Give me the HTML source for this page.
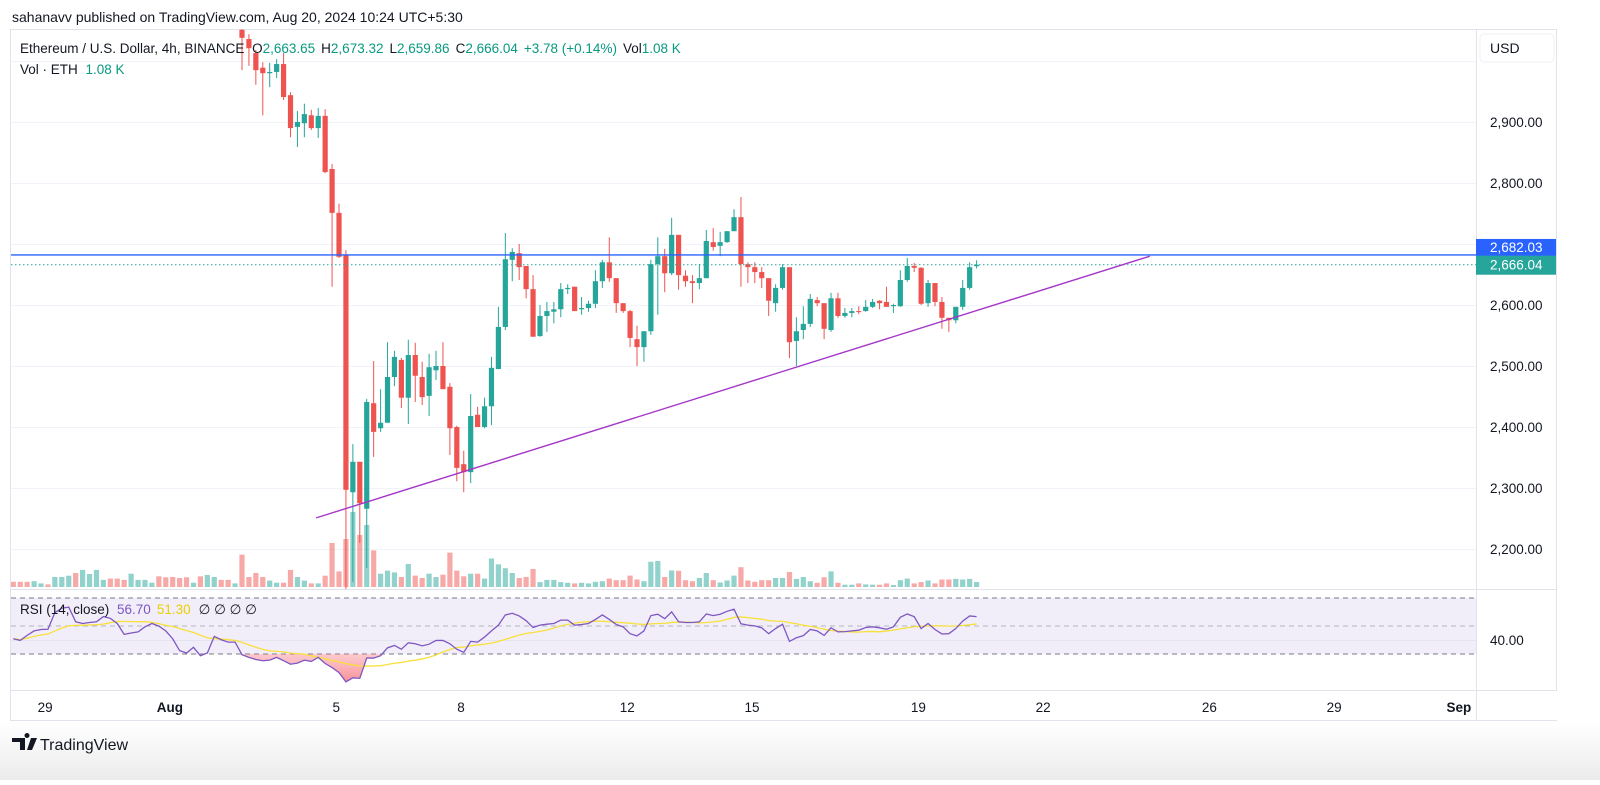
<!DOCTYPE html>
<html><head><meta charset="utf-8"><style>
html,body{margin:0;padding:0;background:#fff;}
body{width:1600px;height:780px;overflow:hidden;font-family:"Liberation Sans",sans-serif;}
svg text{font-family:"Liberation Sans",sans-serif;}
</style></head><body>
<svg id="chart" width="1600" height="780" viewBox="0 0 1600 780" xmlns="http://www.w3.org/2000/svg">
<defs>
<linearGradient id="foot" x1="0" y1="0" x2="0" y2="1"><stop offset="0" stop-color="#ffffff"/><stop offset="1" stop-color="#ebebeb"/></linearGradient>
<linearGradient id="osf" x1="0" y1="0" x2="0" y2="1"><stop offset="0" stop-color="#ffffff" stop-opacity="0.2"/><stop offset="1" stop-color="#f23645" stop-opacity="0.55"/></linearGradient>
<clipPath id="priceClip"><rect x="11" y="29" width="1465" height="560"/></clipPath>
<clipPath id="rsiClip"><rect x="11" y="591" width="1465" height="99"/></clipPath>
<clipPath id="below30"><rect x="11" y="654" width="1465" height="40"/></clipPath>
</defs>
<rect x="0" y="722" width="1600" height="58" fill="url(#foot)"/>
<g id="frame" fill="none" stroke="#e0e3eb" stroke-width="1">
<rect x="10.5" y="29.5" width="1546" height="691"/>
<line x1="1476.5" y1="29" x2="1476.5" y2="721"/>
<line x1="10" y1="589.5" x2="1557" y2="589.5"/>
<line x1="10" y1="690.5" x2="1557" y2="690.5"/>
</g>
<g id="grid"></g>
<g id="axisLabels"></g>
<g id="volG" clip-path="url(#priceClip)"></g>
<g id="candleG" clip-path="url(#priceClip)"></g>
<g id="linesG"></g>
<g id="rsiG"></g>
<g id="timeG"></g>
<rect x="1480" y="34" width="74" height="28" rx="4" fill="#fff" stroke="#eef0f3"/>
<text x="1490" y="53" font-size="14" fill="#131722">USD</text>
<text x="12" y="22" font-size="14" fill="#131722">sahanavv published on TradingView.com, Aug 20, 2024 10:24 UTC+5:30</text>
<text x="20" y="53" font-size="13.5" fill="#131722">Ethereum / U.S. Dollar, 4h, BINANCE <tspan dx="4">O</tspan><tspan fill="#089981">2,663.65</tspan><tspan dx="6">H</tspan><tspan fill="#089981">2,673.32</tspan><tspan dx="6">L</tspan><tspan fill="#089981">2,659.86</tspan><tspan dx="6">C</tspan><tspan fill="#089981">2,666.04</tspan><tspan dx="6" fill="#089981">+3.78 (+0.14%)</tspan><tspan dx="6">Vol</tspan><tspan fill="#089981">1.08 K</tspan></text>
<text x="20" y="74" font-size="13.5" fill="#131722">Vol · ETH <tspan dx="4" fill="#089981">1.08 K</tspan></text>
<text x="20" y="614" font-size="13.5" fill="#131722">RSI (14, close) <tspan dx="4" fill="#7e57c2">56.70</tspan><tspan dx="6" fill="#e8d000">51.30</tspan><tspan dx="8">∅ ∅ ∅ ∅</tspan></text>
<g>
<path d="M12 738h13v12h-5v-8h-8z M27 738a2.5 2.5 0 1 1 0.01 0z M31 738h6l-5 12h-5z" fill="#131722"/>
<text x="40" y="750" font-size="16" fill="#131722">TradingView</text>
</g>
</svg>
<script>
const candleOpen=[3051,3036,3013,2989,2980,2982,2995,2944,2892,2898,2911,2890,2910,2823,2751,2682,2293,2343,2266,2439,2398,2407,2482,2510,2448,2518,2482,2451,2493,2500,2466,2400,2339,2326,2420,2400,2434,2495,2564,2674,2685,2664,2626,2549,2582,2589,2593,2626,2630,2593,2595,2602,2639,2670,2644,2603,2590,2544,2531,2557,2667,2680,2652,2715,2648,2639,2636,2644,2703,2697,2703,2721,2744,2667,2662,2654,2644,2603,2628,2662,2541,2559,2569,2608,2603,2559,2611,2582,2587,2590,2590,2597,2607,2605,2598,2598,2641,2664,2661,2603,2636,2605,2579,2575,2597,2628,2663.65];
const candleHigh=[3054,3044,3018,2998,2997,3003,3013,2949,2918,2930,2920,2923,2921,2831,2766,2690,2372,2343,2446,2508,2462,2539,2525,2513,2543,2538,2507,2520,2525,2539,2472,2402,2361,2454,2433,2448,2515,2597,2718,2693,2700,2664,2649,2600,2605,2605,2636,2634,2630,2613,2607,2657,2674,2711,2644,2603,2592,2566,2557,2674,2711,2692,2743,2715,2657,2649,2667,2723,2726,2720,2721,2757,2777,2670,2670,2662,2644,2634,2667,2662,2580,2598,2618,2613,2603,2620,2620,2595,2595,2598,2608,2610,2608,2630,2602,2657,2677,2669,2662,2641,2636,2613,2579,2597,2641,2670,2673.32];
const candleLow=[2985,2992,2961,2911,2957,2972,2936,2875,2859,2875,2887,2874,2816,2630,2677,2116,2146,2210,2169,2351,2392,2407,2467,2431,2405,2441,2436,2418,2477,2462,2354,2311,2293,2308,2400,2398,2403,2495,2559,2639,2641,2611,2548,2548,2556,2570,2580,2618,2590,2584,2589,2595,2628,2638,2587,2587,2531,2500,2507,2551,2584,2621,2649,2625,2630,2603,2626,2644,2689,2680,2702,2721,2630,2636,2636,2628,2582,2589,2625,2513,2500,2544,2564,2598,2544,2556,2579,2579,2580,2585,2589,2595,2593,2597,2587,2597,2638,2654,2600,2597,2598,2561,2556,2570,2592,2625,2659.86];
const candleClose=[3038,3021,2985,2980,2982,2995,2941,2890,2900,2913,2890,2910,2818,2751,2679,2297,2343,2275,2441,2392,2407,2482,2515,2448,2518,2484,2449,2498,2500,2462,2398,2333,2326,2418,2400,2434,2497,2564,2675,2687,2662,2626,2548,2582,2590,2593,2626,2628,2590,2595,2602,2639,2670,2644,2603,2590,2546,2531,2557,2667,2680,2652,2715,2649,2639,2636,2644,2705,2695,2703,2721,2744,2667,2662,2654,2644,2607,2628,2662,2539,2557,2569,2610,2603,2561,2611,2582,2587,2590,2589,2597,2605,2603,2597,2600,2641,2664,2661,2602,2636,2605,2579,2575,2597,2628,2662,2666.04];
const preVolume=[5.2,5.2,5.2,5.8,3.6,2.6,10,10,11.3,14,17.1,13,17.1,7.1,8.4,8.4,7.1,13.3,7.1,7.1,4.3,10.7,9.7,10,9,9.7,4.3,10.7,12,10,7.1,7.1,3.6];
const preVolumeUp=[0,0,0,1,1,0,1,1,1,0,1,1,1,1,0,0,0,1,1,1,1,0,0,0,0,0,1,0,1,1,0,0,1];
const candleVolume=[32.4,10,14,10,6.4,4.3,4.3,17.1,10,6.4,3.6,3.6,11.3,44,15.6,48,75,52,62,36.6,13.3,16.4,14.6,10,23,11.4,9,13.3,10,12.3,34.4,16.4,10.7,13.3,13.3,8.4,28.5,22.7,18.8,14,9,10,18,4.9,7.1,7.1,4.9,4.2,3.6,4.2,3.6,5.2,5.8,8.4,6.8,6.8,11.4,7.5,5.8,25.3,26,10,16.5,16.2,6.8,5.8,9,14,6.8,4.5,6.5,11.4,19.8,6.5,5.2,6.8,6.8,9,9,15,8.1,10,5.8,4.2,9.7,15.6,4.2,2.3,2.3,3.6,2.6,2.3,2.3,3.6,2,6.8,8.4,3.6,4.9,6.5,3.6,7.5,7.5,8.1,7.5,8.1,5];
const rsiValues=[40.9,39.7,43.3,46.5,47.5,47.7,59.6,62.7,63.5,53,51.8,52.5,53,56.7,55.5,51.8,44,45,45.8,49.4,51.8,49.9,46.5,40.9,32.4,30.7,34.8,28.8,30.7,42.6,40.2,38.5,38.5,29.5,27.6,26.1,25.2,25.6,27.6,25.2,22.7,23.5,25.6,24.7,27.6,23.2,20.3,16.7,10.1,13,12.6,27.1,27.1,28.8,34.4,36.1,33.4,38,37.3,35.8,37,39.7,39.7,37.3,33.4,31.2,39,38.5,42.1,46.5,50.6,57.9,59.1,57.2,53.8,48.9,50.6,51.3,51.8,54.2,54.2,50.6,51.1,51.8,54.7,57.9,54.7,51.1,49.4,44.5,42.9,46.5,57.4,58.4,55.2,60.1,53,52.5,52.5,53,58.6,57.4,58.4,60.5,62,51.6,50.6,50.1,48.7,44.5,48.2,51.3,39,41.6,43.1,47.5,46.5,43.3,48.7,45.8,46,46.5,47,48.9,49.4,48.7,47.7,49.4,56.2,58.6,56.7,48.2,51.8,47.5,44.3,44.5,48.2,53.5,57.2,56.7];
const priceTicks=[3000,2900,2800,2700,2600,2500,2400,2300,2200];
const priceTickLabels=["","2,900.00","2,800.00","","2,600.00","2,500.00","2,400.00","2,300.00","2,200.00"];
const timeLabels=["29","Aug","5","8","12","15","19","22","26","29","Sep"];
const timeDays=[-2,1,5,8,12,15,19,22,26,29,32];
const timeBold=[0,1,0,0,0,0,0,0,0,0,1];
const trendPoints=[[43.7,2251],[164,2680]];
const resistance=2682.03;
const lastPrice=2666.04;

const NS="http://www.w3.org/2000/svg";
const PRE=preVolume.length;
const xOf=k=>13.3+k*6.93;
const yP=p=>122+(2900-p)*0.61;
const yV=v=>587-v;
const yR=r=>626-(r-50)*1.4;
function mk(tag,attrs,parent){const e=document.createElementNS(NS,tag);for(const a in attrs)e.setAttribute(a,attrs[a]);parent.appendChild(e);return e;}
const G=id=>document.getElementById(id);

// grid + labels
priceTicks.forEach((p,i)=>{
  const l=mk('line',{x1:11,x2:1476,y1:yP(p)+0.5,y2:yP(p)+0.5,stroke:'#f0f3fa'},G('grid'));
  
  
  if(priceTickLabels[i]){
    const t=mk('text',{x:1490,y:yP(p)+5,'font-size':13.5,fill:'#131722'},G('axisLabels'));
    t.textContent=priceTickLabels[i];
    
    
  }
});

// volume
const allVol=preVolume.concat(candleVolume);
allVol.forEach((v,k)=>{
  const up=k<PRE?preVolumeUp[k]===1:candleClose[k-PRE]>=candleOpen[k-PRE];
  const r=mk('rect',{x:xOf(k)-2.6,y:yV(v),width:5.2,height:v,fill:up?'rgba(38,166,154,0.5)':'rgba(239,83,80,0.5)'},G('volG'));
  
  
});

// candles
candleOpen.forEach((o,i)=>{
  const c=candleClose[i],h=candleHigh[i],l=candleLow[i];
  const x=xOf(i+PRE),col=c>=o?'#26a69a':'#ef5350';
  const g=mk('g',{},G('candleG'));
  
  
  mk('line',{x1:x,x2:x,y1:yP(h),y2:yP(l),stroke:col,'stroke-width':1},g);
  const yt=yP(Math.max(o,c)),yb=yP(Math.min(o,c));
  mk('rect',{x:x-2.6,y:yt,width:5.2,height:Math.max(1,yb-yt),fill:col},g);
});

// drawings
const hl=mk('line',{x1:11,x2:1476,y1:yP(resistance),y2:yP(resistance),stroke:'#2962ff','stroke-width':1.3},G('linesG'));


const pl=mk('line',{x1:11,x2:1476,y1:yP(lastPrice),y2:yP(lastPrice),stroke:'#26a69a','stroke-width':1,'stroke-dasharray':'1.5,2.5'},G('linesG'));


const tl=mk('line',{x1:xOf(trendPoints[0][0]),y1:yP(trendPoints[0][1]),x2:xOf(trendPoints[1][0]),y2:yP(trendPoints[1][1]),stroke:'#a536c8','stroke-width':1.4},G('linesG'));


[[resistance,'#2962ff','2,682.03',-9],[lastPrice,'#26a69a','2,666.04',0]].forEach(([p,col,txt,dy])=>{
  const y=yP(p);
  const g=mk('g',{},G('linesG'));
  
  
  const top=dy<0?y-16:y-9;
  mk('rect',{x:1476,y:top,width:80,height:dy<0?17:19,fill:col},g);
  const t=mk('text',{x:1490,y:top+(dy<0?13:14),'font-size':13.5,fill:'#fff'},g);
  t.textContent=txt;
});

// RSI pane
const R=G('rsiG');
mk('rect',{x:11,y:yR(70),width:1465,height:yR(30)-yR(70),fill:'rgba(126,87,194,0.1)'},R);
[[70,'#787b86'],[50,'#b2b5be'],[30,'#787b86']].forEach(([v,c])=>{
  const l=mk('line',{x1:11,x2:1476,y1:yR(v),y2:yR(v),stroke:c,'stroke-dasharray':'5,4'},R);
  
  
});
mk('line',{x1:11,x2:1476,y1:yR(40)+0.5,y2:yR(40)+0.5,stroke:'#e6e3f0'},R);
const rl=mk('text',{x:1490,y:yR(40)+5,'font-size':13.5,fill:'#131722'},R);
rl.textContent='40.00';


const rsiPts=rsiValues.map((r,k)=>[xOf(k),yR(r)]);
const fillPath='M'+rsiPts[0][0]+','+yR(30)+' '+rsiPts.map(p=>'L'+p[0]+','+p[1]).join(' ')+' L'+rsiPts[rsiPts.length-1][0]+','+yR(30)+'Z';
const fp=mk('path',{d:fillPath,fill:'url(#osf)','clip-path':'url(#below30)'},R);


const ma=rsiValues.map((r,k)=>{const s=rsiValues.slice(Math.max(0,k-13),k+1);return s.reduce((a,b)=>a+b,0)/s.length;});
const mp=mk('polyline',{points:ma.map((m,k)=>xOf(k)+','+yR(m)).join(' '),fill:'none',stroke:'#f7e03a','stroke-width':1.3},R);


const rp=mk('polyline',{points:rsiPts.map(p=>p.join(',')).join(' '),fill:'none',stroke:'#7e57c2','stroke-width':1.3},R);



// time axis
timeLabels.forEach((lab,i)=>{
  const x=xOf(22.6+(timeDays[i]-1)*6);
  const t=mk('text',{x:x,y:712,'font-size':13.5,fill:'#131722','text-anchor':'middle','font-weight':timeBold[i]?'bold':'normal'},G('timeG'));
  t.textContent=lab;
  
  
});
mk('rect',{x:1477,y:691,width:80,height:29,fill:'#fff'},G('timeG'));
</script>
</body></html>
